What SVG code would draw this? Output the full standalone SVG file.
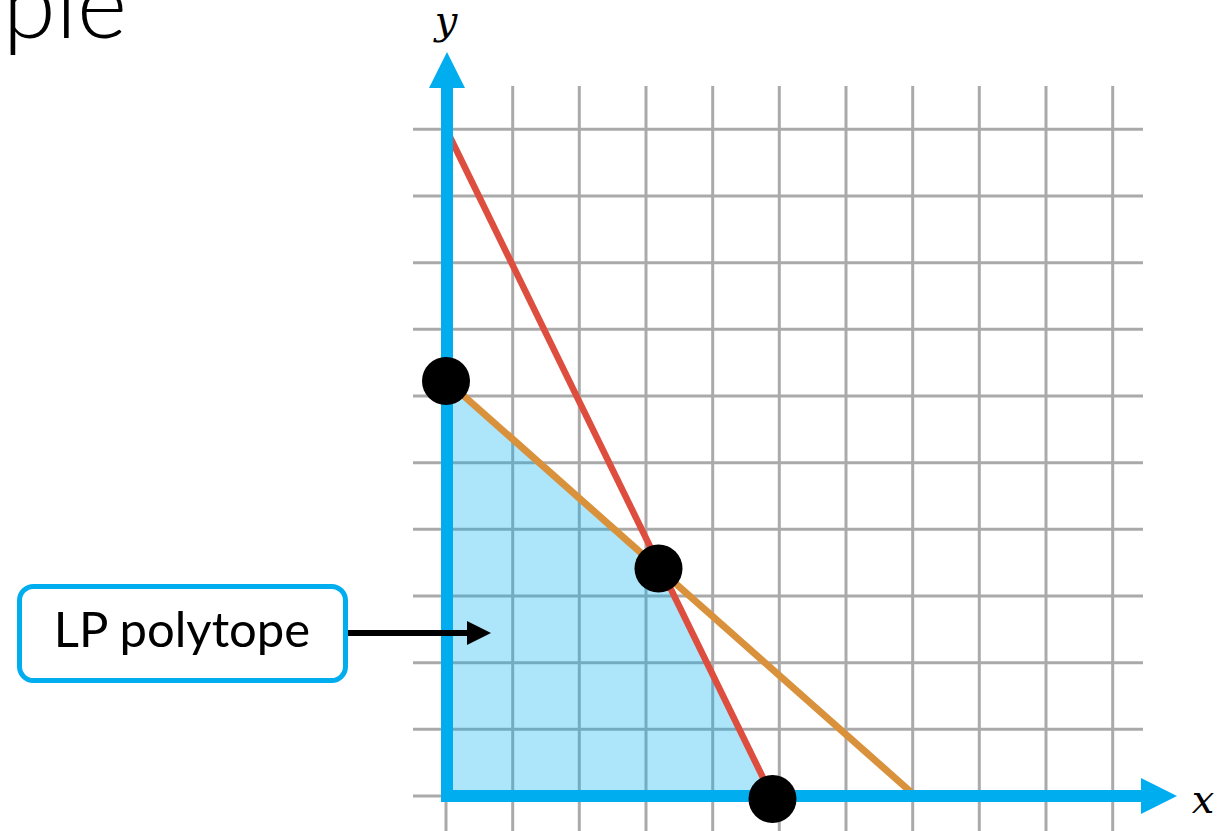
<svg xmlns="http://www.w3.org/2000/svg" width="1231" height="831" viewBox="0 0 1231 831">
<style>
.grid line{stroke:#aaaaaa;stroke-width:3}
.axis{stroke:#00aeef;stroke-width:12;fill:none}
.ahead{fill:#00aeef}
.dot{fill:#000}
.lbl{font-family:"DejaVu Serif",serif;font-style:italic;font-size:40px;fill:#000}
</style>
<rect width="1231" height="831" fill="#fff"/>
<text x="127" y="38" text-anchor="end" font-family="Lato, sans-serif" font-weight="300" font-size="96" fill="#000">ple</text>
<g id="grid" class="grid">
<line x1="446" y1="86" x2="446" y2="831"/>
<line x1="512.7" y1="86" x2="512.7" y2="831"/>
<line x1="579.3" y1="86" x2="579.3" y2="831"/>
<line x1="646" y1="86" x2="646" y2="831"/>
<line x1="712.7" y1="86" x2="712.7" y2="831"/>
<line x1="779.3" y1="86" x2="779.3" y2="831"/>
<line x1="846" y1="86" x2="846" y2="831"/>
<line x1="912.7" y1="86" x2="912.7" y2="831"/>
<line x1="979.3" y1="86" x2="979.3" y2="831"/>
<line x1="1046" y1="86" x2="1046" y2="831"/>
<line x1="1112.7" y1="86" x2="1112.7" y2="831"/>
<line x1="413" y1="796" x2="1143" y2="796"/>
<line x1="413" y1="729.3" x2="1143" y2="729.3"/>
<line x1="413" y1="662.7" x2="1143" y2="662.7"/>
<line x1="413" y1="596" x2="1143" y2="596"/>
<line x1="413" y1="529.3" x2="1143" y2="529.3"/>
<line x1="413" y1="462.7" x2="1143" y2="462.7"/>
<line x1="413" y1="396" x2="1143" y2="396"/>
<line x1="413" y1="329.3" x2="1143" y2="329.3"/>
<line x1="413" y1="262.7" x2="1143" y2="262.7"/>
<line x1="413" y1="196" x2="1143" y2="196"/>
<line x1="413" y1="129.3" x2="1143" y2="129.3"/>
</g>
<g id="polytope">
<polygon points="447,381 660,569 770,796 447,796" fill="#00aeef" fill-opacity="0.32"/>
</g>
<g id="constraints">
<line x1="450" y1="137" x2="770" y2="792" stroke="#dd4e3e" stroke-width="6.5"/>
<line x1="447" y1="381" x2="912" y2="793" stroke="#d9913b" stroke-width="7"/>
</g>
<g id="axes">
<line class="axis" x1="447" y1="802" x2="447" y2="86"/>
<polygon class="ahead" points="429,88 465,88 447,52"/>
<line class="axis" x1="441" y1="796" x2="1142" y2="796"/>
<polygon class="ahead" points="1141,778 1141,814 1177,796"/>
<text class="lbl" x="446" y="34" text-anchor="middle">y</text>
<text class="lbl" x="1203" y="813" text-anchor="middle">x</text>
</g>
<g id="vertices">
<circle class="dot" cx="446" cy="381" r="24"/>
<circle class="dot" cx="658.5" cy="568.5" r="24"/>
<circle class="dot" cx="772.5" cy="799" r="24"/>
</g>
<g id="label-box">
<rect x="19.5" y="586.5" width="326" height="94" rx="14" fill="#fff" stroke="#00aeef" stroke-width="5"/>
<text x="182" y="647" text-anchor="middle" font-family="Lato, sans-serif" font-size="49" fill="#000">LP polytope</text>
</g>
<g id="connectors">
<line x1="348" y1="633" x2="470" y2="633" stroke="#000" stroke-width="6"/>
<polygon points="467,621 491,633 467,645" fill="#000"/>
</g>
</svg>
